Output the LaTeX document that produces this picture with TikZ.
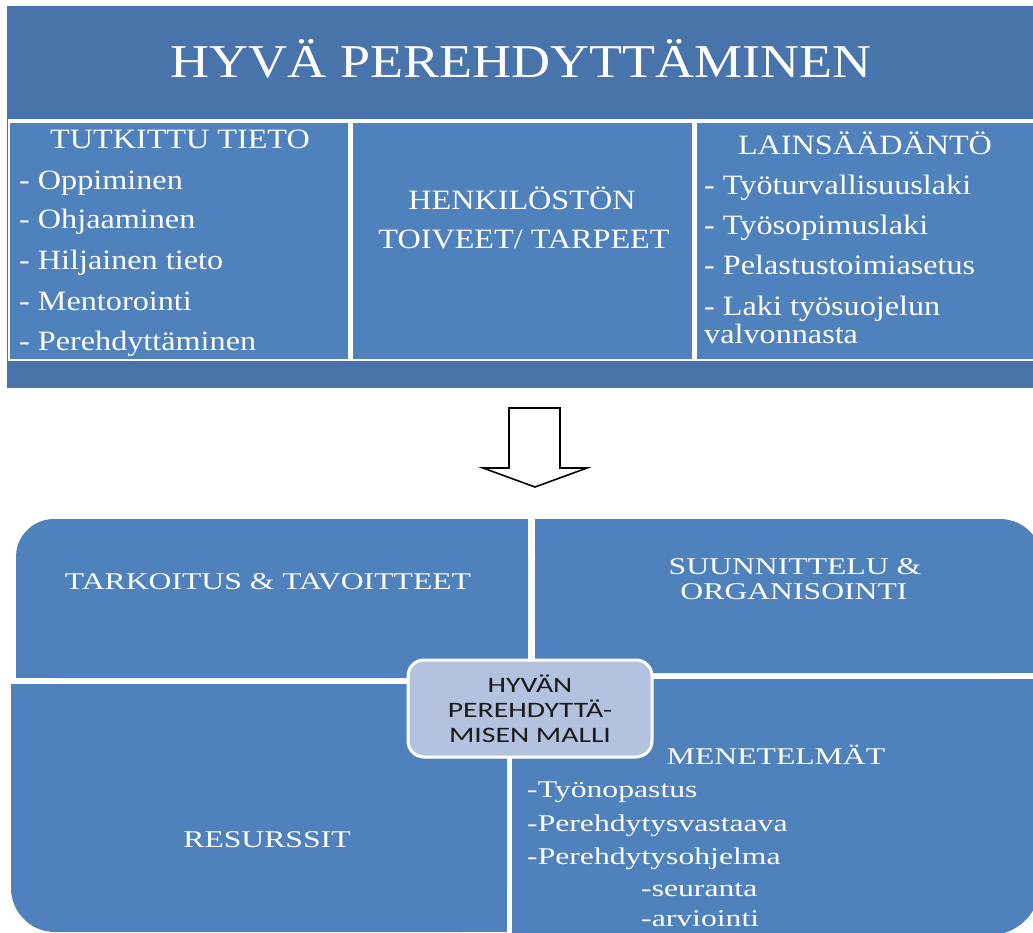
\documentclass[tikz,border=0pt]{standalone}
\usepackage{fontspec}
\setmainfont{Liberation Serif}
\newfontfamily\topf{Liberation Serif}[FakeStretch=1.15]
\newfontfamily\botf{Liberation Serif}[FakeStretch=1.32]
\newfontfamily\midf{Carlito}[FakeStretch=1.35]
\definecolor{cellblue}{HTML}{4F81BD}
\definecolor{bandblue}{HTML}{4874AB}
\definecolor{coreblue}{HTML}{B3C2DE}
\definecolor{coretext}{HTML}{1A1A1A}
\begin{document}
\begin{tikzpicture}[x=1pt,y=-1pt,
  toptxt/.style={text=white,font=\topf\fontsize{28}{28}\selectfont,inner sep=0pt},
  titletxt/.style={text=white,font=\topf\fontsize{47}{47}\selectfont,inner sep=0pt},
  bottxt/.style={text=white,font=\botf\fontsize{24}{24}\selectfont,inner sep=0pt},
  corebox/.style={rectangle,rounded corners=16pt,fill=coreblue,draw=white,line width=3pt,
    minimum width=244pt,minimum height=97pt,inner sep=0pt,align=center,text=coretext,
    font=\midf\fontsize{22}{25}\selectfont}]
\useasboundingbox (0,0) rectangle (1033,933);
\clip (0,0) rectangle (1033,933);
\fill[white] (0,0) rectangle (1033,933);
% top table
\fill[bandblue] (7,6) rectangle (1045,388);
\fill[white] (8,119) rectangle (1045,361);
\fill[cellblue] (10,123) rectangle (348,359);
\fill[cellblue] (353,123) rectangle (692,359);
\fill[cellblue] (697,123) rectangle (1045,359);
\node[titletxt,anchor=base] (title) at (521,78) {HYVÄ PEREHDYTTÄMINEN};
\node[toptxt,anchor=base] (tt) at (180,149) {TUTKITTU TIETO};
\node[toptxt,anchor=base west] (t1) at (19,190) {- Oppiminen};
\node[toptxt,anchor=base west] (t2) at (19,229) {- Ohjaaminen};
\node[toptxt,anchor=base west] (t3) at (19,270) {- Hiljainen tieto};
\node[toptxt,anchor=base west] (t4) at (19,310) {- Mentorointi};
\node[toptxt,anchor=base west] (t5) at (19,350) {- Perehdyttäminen};
\node[toptxt,anchor=base] (h1) at (522,210) {HENKILÖSTÖN};
\node[toptxt,anchor=base] (h2) at (524,249) {TOIVEET/ TARPEET};
\node[toptxt,anchor=base] (lt) at (865,155) {LAINSÄÄDÄNTÖ};
\node[toptxt,anchor=base west] (l1) at (704,195) {- Työturvallisuuslaki};
\node[toptxt,anchor=base west] (l2) at (704,235) {- Työsopimuslaki};
\node[toptxt,anchor=base west] (l3) at (704,275) {- Pelastustoimiasetus};
\node[toptxt,anchor=base west] (l4) at (704,315) {- Laki työsuojelun};
\node[toptxt,anchor=base west] (l5) at (704,343) {valvonnasta};
% block arrow
\draw[line width=1.6pt,fill=white,line join=miter]
  (509,408) -- (560,408) -- (560,468) -- (587,468) -- (535,487) -- (483,468) -- (509,468) -- cycle;
% bottom quadrants
\fill[cellblue,rounded corners=38pt] (16,519) rectangle (528,678);
\fill[cellblue] (56,519) rectangle (528,678);
\fill[cellblue] (16,560) rectangle (528,678);
\fill[cellblue,rounded corners=42pt] (535,519) rectangle (1042,673);
\fill[cellblue] (535,519) rectangle (990,673);
\fill[cellblue] (535,565) rectangle (1042,673);
\fill[cellblue,rounded corners=44pt] (11,684) rectangle (507,932);
\fill[cellblue] (11,684) rectangle (507,885);
\fill[cellblue] (58,684) rectangle (507,932);
\fill[cellblue,rounded corners=50pt] (512,679) rectangle (1040,935);
\fill[cellblue] (512,679) rectangle (1040,880);
\fill[cellblue] (512,679) rectangle (985,935);
\node[bottxt,anchor=base] (tark) at (268,589) {TARKOITUS \& TAVOITTEET};
\node[bottxt,anchor=base] (s1) at (795,574) {SUUNNITTELU \&};
\node[bottxt,anchor=base] (s2) at (794,599) {ORGANISOINTI};
\node[bottxt,anchor=base] (res) at (267,847) {RESURSSIT};
\node[bottxt,anchor=base] (men) at (776,764) {MENETELMÄT};
\node[bottxt,anchor=base west] (m1) at (527,797) {-Työnopastus};
\node[bottxt,anchor=base west] (m2) at (527,831) {-Perehdytysvastaava};
\node[bottxt,anchor=base west] (m3) at (527,864) {-Perehdytysohjelma};
\node[bottxt,anchor=base west] (m4) at (641,896) {-seuranta};
\node[bottxt,anchor=base west] (m5) at (641,926) {-arviointi};
% centre
\node[corebox] (core) at (530,708.5) {HYVÄN\\PEREHDYTTÄ-\\MISEN MALLI};
\end{tikzpicture}
\end{document}
